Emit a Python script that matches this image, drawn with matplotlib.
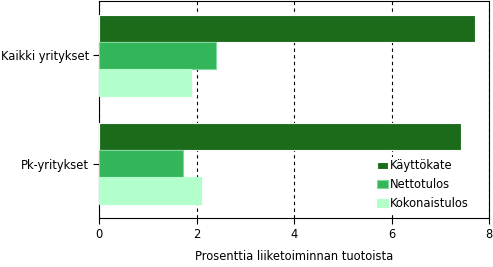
import numpy as np
import matplotlib.pyplot as plt

categories = ["Kaikki yritykset", "Pk-yritykset"]
series = ["Käyttökate", "Nettotulos", "Kokonaistulos"]
kayttokate = [7.71, 7.42]
nettotulos = [2.41, 1.72]
kokonaistulos = [1.89, 2.09]

colors = ["#1b6b1b", "#33b55a", "#b3ffcc"]
edges = ["#ffffff", "#80d89a", "#b3ffcc"]

fig = plt.figure(figsize=(4.93, 2.67), dpi=100)
ax = fig.add_axes([99 / 493, 1 - 218 / 267, 390 / 493, 217 / 267])

y = np.arange(len(categories))
h = 0.25
for i, (name, vals) in enumerate(zip(series, [kayttokate, nettotulos, kokonaistulos])):
    ax.barh(y + (i - 1) * h, vals, height=h, color=colors[i],
            edgecolor=edges[i], linewidth=0.8, label=name, zorder=3)

ax.set_xlim(0, 8)
ax.set_ylim(1.5, -0.5)
ax.set_xticks([0, 2, 4, 6, 8])
ax.set_yticks(y)
ax.set_yticklabels(categories)
ax.xaxis.grid(True, color="black", linestyle=(0, (3, 3)), linewidth=0.8)
ax.tick_params(labelsize=8.3, length=4, width=0.8, color="black", pad=3)
for s in ax.spines.values():
    s.set_linewidth(0.8)
ax.set_xlabel("Prosenttia liiketoiminnan tuotoista", fontsize=8.3, labelpad=7)

leg = ax.legend(loc="lower right", frameon=True, fontsize=8.3, handlelength=1.0,
                handleheight=0.6, handletextpad=0.2, labelspacing=0.5,
                borderpad=0.2, fancybox=False, bbox_to_anchor=(0.97, 0.0))
leg.get_frame().set_facecolor("white")
leg.get_frame().set_edgecolor("none")
leg.get_frame().set_alpha(1)
leg.set_zorder(5)

fig.savefig("out.png", dpi=100)
